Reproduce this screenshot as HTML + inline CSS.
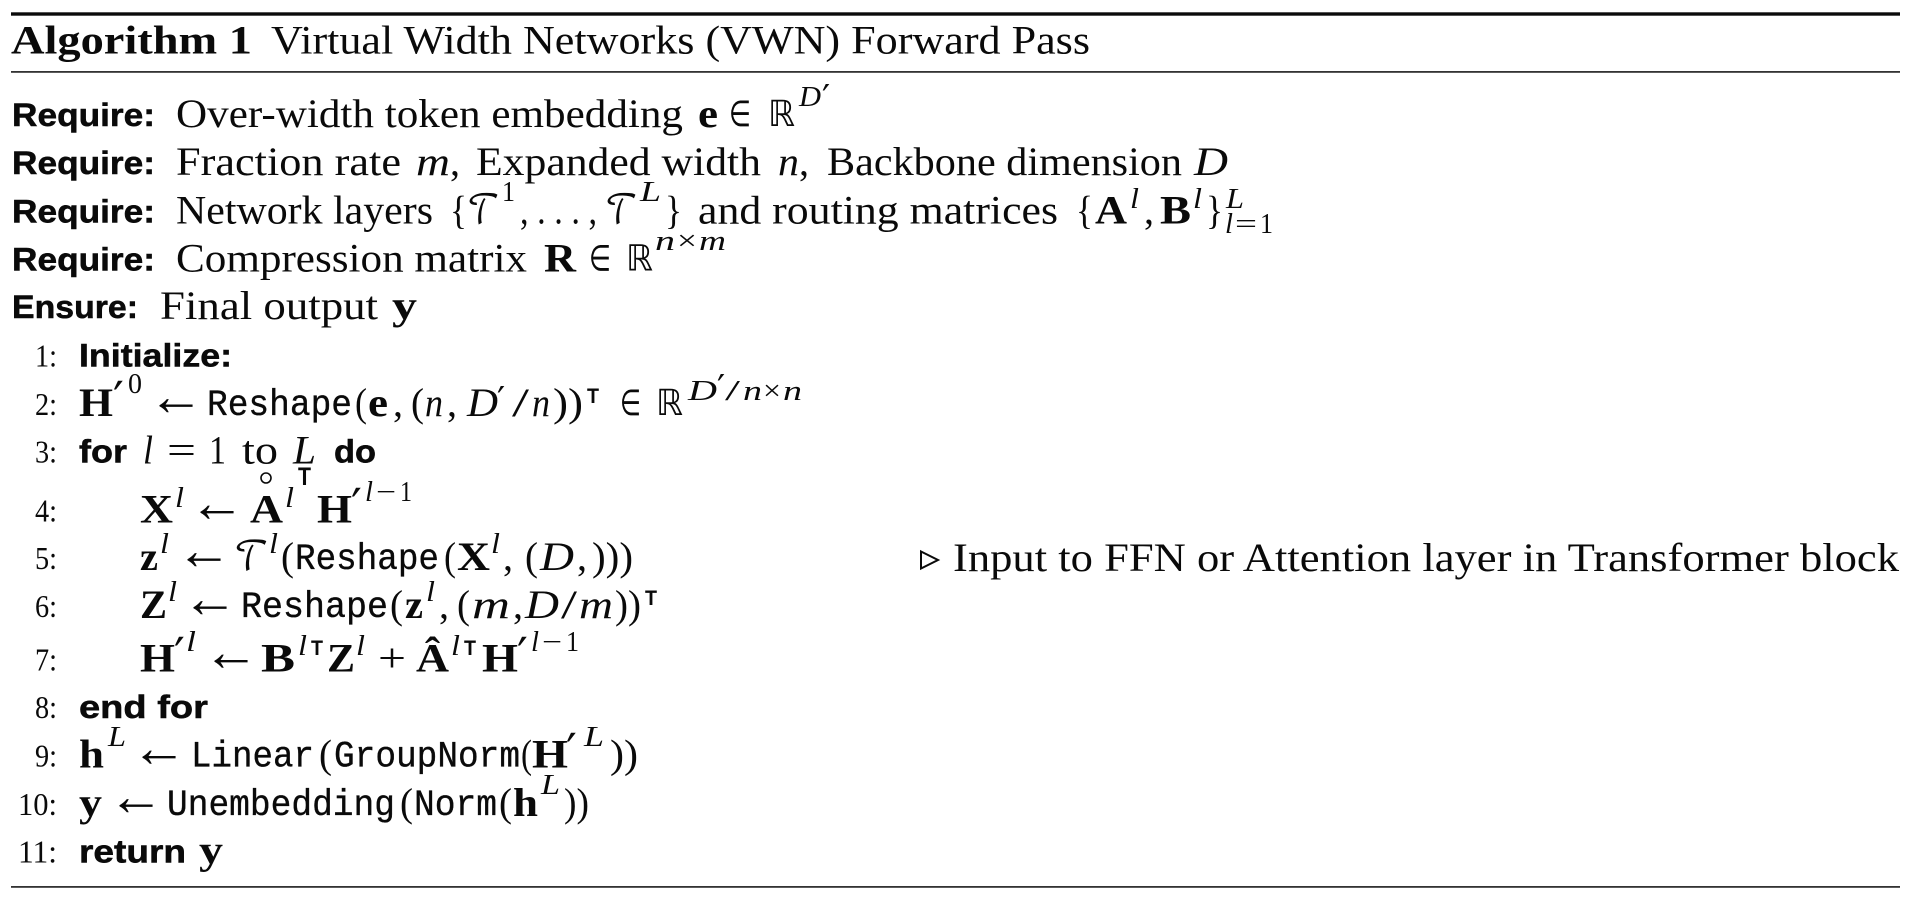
<!DOCTYPE html>
<html><head><meta charset="utf-8"><style>
html,body{margin:0;padding:0;background:#fff;width:1920px;height:900px;overflow:hidden}
svg{display:block;filter:blur(.35px)}
text{fill:#0a0a0a;white-space:pre}
.s{font:40px "Liberation Serif",serif;transform:translateY(1px)}
.n{font:32px "Liberation Serif",serif}
.b{font:bold 40px "Liberation Serif",serif;transform:translateY(1px)}
.i{font:italic 40px "Liberation Serif",serif;transform:translateY(1px)}
.c{font:40px "DejaVu Math TeX Gyre","Liberation Serif",serif}
.m{font:37px "Liberation Mono",monospace;stroke:#0a0a0a;stroke-width:.35px}
.h{font:bold 32px "Liberation Sans",sans-serif;stroke:#0a0a0a;stroke-width:.5px}
.si{font:italic 28px "Liberation Serif",serif}
.sr{font:28px "Liberation Serif",serif}
.t{font:bold 21px "Liberation Sans",sans-serif}
.tt{font:bold 25px "Liberation Sans",sans-serif}
.a{font:56px "Liberation Serif",serif}
.e{font:36px "DejaVu Sans",sans-serif}
.d{font:36px "DejaVu Sans",sans-serif}
.p{font:48px "DejaVu Sans",sans-serif}
.q{font:36px "DejaVu Sans",sans-serif}
</style></head><body>
<svg width="1920" height="900" viewBox="0 0 1920 900" xmlns="http://www.w3.org/2000/svg">
<rect x="11" y="12.3" width="1889" height="3.4" fill="#0a0a0a"/>
<rect x="11" y="71" width="1889" height="1.8" fill="#333"/>
<rect x="11" y="886" width="1889" height="1.8" fill="#333"/>

<text class="b" x="11" y="52.7" textLength="241" lengthAdjust="spacingAndGlyphs">Algorithm 1</text>
<text class="s" x="271" y="52.7" textLength="819" lengthAdjust="spacingAndGlyphs">Virtual Width Networks (VWN) Forward Pass</text>

<!-- Require 1 -->
<text class="h" x="12" y="126" textLength="143" lengthAdjust="spacingAndGlyphs">Require:</text>
<text class="s" x="176" y="126" textLength="507" lengthAdjust="spacingAndGlyphs">Over-width token embedding</text>
<text class="b" x="698" y="126" textLength="20" lengthAdjust="spacingAndGlyphs">e</text>
<text class="e" x="729" y="126" textLength="22" lengthAdjust="spacingAndGlyphs">∈</text>
<text class="d" x="768" y="126" textLength="27" lengthAdjust="spacingAndGlyphs">ℝ</text>
<text class="si" x="799" y="106" textLength="22" lengthAdjust="spacingAndGlyphs">D</text>
<text class="q" x="822" y="110">′</text>

<!-- Require 2 -->
<text class="h" x="12" y="174" textLength="143" lengthAdjust="spacingAndGlyphs">Require:</text>
<text class="s" x="176" y="174" textLength="225" lengthAdjust="spacingAndGlyphs">Fraction rate</text>
<text class="i" x="416" y="174" textLength="34" lengthAdjust="spacingAndGlyphs">m</text>
<text class="s" x="450" y="174">,</text>
<text class="s" x="476" y="174" textLength="285" lengthAdjust="spacingAndGlyphs">Expanded width</text>
<text class="i" x="778" y="174" textLength="21" lengthAdjust="spacingAndGlyphs">n</text>
<text class="s" x="799" y="174">,</text>
<text class="s" x="827" y="174" textLength="355" lengthAdjust="spacingAndGlyphs">Backbone dimension</text>
<text class="i" x="1194" y="174" textLength="34" lengthAdjust="spacingAndGlyphs">D</text>

<!-- Require 3 -->
<text class="h" x="12" y="222.7" textLength="143" lengthAdjust="spacingAndGlyphs">Require:</text>
<text class="s" x="176" y="222.7" textLength="257" lengthAdjust="spacingAndGlyphs">Network layers</text>
<text class="s" x="450" y="222.7" textLength="17" lengthAdjust="spacingAndGlyphs">{</text>
<text class="c" x="467" y="223.7" textLength="33" lengthAdjust="spacingAndGlyphs">𝒯</text>
<text class="sr" x="502" y="201" textLength="13" lengthAdjust="spacingAndGlyphs">1</text>
<text class="s" x="520" y="222.7" textLength="77" lengthAdjust="spacingAndGlyphs">, . . . ,</text>
<text class="c" x="605" y="223.7" textLength="33" lengthAdjust="spacingAndGlyphs">𝒯</text>
<text class="si" x="640" y="201" textLength="21" lengthAdjust="spacingAndGlyphs">L</text>
<text class="s" x="665" y="222.7" textLength="17" lengthAdjust="spacingAndGlyphs">}</text>
<text class="s" x="698" y="222.7" textLength="360" lengthAdjust="spacingAndGlyphs">and routing matrices</text>
<text class="s" x="1076" y="222.7" textLength="17" lengthAdjust="spacingAndGlyphs">{</text>
<text class="b" x="1095" y="222.7" textLength="32" lengthAdjust="spacingAndGlyphs">A</text>
<text class="si" x="1130" y="208" textLength="9" lengthAdjust="spacingAndGlyphs">l</text>
<text class="s" x="1144" y="222.7">,</text>
<text class="b" x="1160" y="222.7" textLength="31" lengthAdjust="spacingAndGlyphs">B</text>
<text class="si" x="1193" y="208" textLength="9" lengthAdjust="spacingAndGlyphs">l</text>
<text class="s" x="1206" y="222.7" textLength="17" lengthAdjust="spacingAndGlyphs">}</text>
<text class="si" x="1226" y="208" textLength="18" lengthAdjust="spacingAndGlyphs">L</text>
<text class="si" x="1225" y="233" textLength="8" lengthAdjust="spacingAndGlyphs">l</text>
<text class="sr" x="1235" y="233" textLength="22" lengthAdjust="spacingAndGlyphs">=</text>
<text class="sr" x="1260" y="233" textLength="13" lengthAdjust="spacingAndGlyphs">1</text>

<!-- Require 4 -->
<text class="h" x="12" y="270.7" textLength="143" lengthAdjust="spacingAndGlyphs">Require:</text>
<text class="s" x="176" y="270.7" textLength="351" lengthAdjust="spacingAndGlyphs">Compression matrix</text>
<text class="b" x="544" y="270.7" textLength="32" lengthAdjust="spacingAndGlyphs">R</text>
<text class="e" x="589" y="270.7" textLength="22" lengthAdjust="spacingAndGlyphs">∈</text>
<text class="d" x="626" y="270.7" textLength="27" lengthAdjust="spacingAndGlyphs">ℝ</text>
<text class="si" x="655" y="250" textLength="20" lengthAdjust="spacingAndGlyphs">n</text>
<text class="sr" x="677" y="250" textLength="20" lengthAdjust="spacingAndGlyphs">×</text>
<text class="si" x="699" y="250" textLength="27" lengthAdjust="spacingAndGlyphs">m</text>

<!-- Ensure -->
<text class="h" x="12" y="318" textLength="126" lengthAdjust="spacingAndGlyphs">Ensure:</text>
<text class="s" x="160" y="318" textLength="218" lengthAdjust="spacingAndGlyphs">Final output</text>
<text class="b" x="392" y="318" textLength="25" lengthAdjust="spacingAndGlyphs">y</text>

<!-- 1 -->
<text class="n" x="35" y="366.7" textLength="22" lengthAdjust="spacingAndGlyphs">1:</text>
<text class="h" x="79" y="366.7" textLength="153" lengthAdjust="spacingAndGlyphs">Initialize:</text>

<!-- 2 -->
<text class="n" x="35" y="415" textLength="22" lengthAdjust="spacingAndGlyphs">2:</text>
<text class="b" x="79" y="415" textLength="34" lengthAdjust="spacingAndGlyphs">H</text>
<text class="p" x="113" y="416">′</text>
<text class="sr" x="128" y="393" textLength="14" lengthAdjust="spacingAndGlyphs">0</text>
<text class="a" x="148" y="415">←</text>
<text class="m" x="207" y="415" textLength="145" lengthAdjust="spacingAndGlyphs">Reshape</text>
<text class="s" x="355" y="415" textLength="12" lengthAdjust="spacingAndGlyphs">(</text>
<text class="b" x="368" y="415" textLength="20" lengthAdjust="spacingAndGlyphs">e</text>
<text class="s" x="393" y="415">,</text>
<text class="s" x="411" y="415" textLength="13" lengthAdjust="spacingAndGlyphs">(</text>
<text class="i" x="425" y="415" textLength="18" lengthAdjust="spacingAndGlyphs">n</text>
<text class="s" x="447" y="415">,</text>
<text class="i" x="467" y="415" textLength="31" lengthAdjust="spacingAndGlyphs">D</text>
<text class="q" x="497" y="412">′</text>
<text class="s" x="512" y="415" textLength="17" lengthAdjust="spacingAndGlyphs">/</text>
<text class="i" x="532" y="415" textLength="18" lengthAdjust="spacingAndGlyphs">n</text>
<text class="s" x="553" y="415" textLength="30" lengthAdjust="spacingAndGlyphs">))</text>
<text class="t" x="587" y="403" textLength="12" lengthAdjust="spacingAndGlyphs">T</text>
<text class="e" x="620" y="415" textLength="21" lengthAdjust="spacingAndGlyphs">∈</text>
<text class="d" x="656" y="415" textLength="27" lengthAdjust="spacingAndGlyphs">ℝ</text>
<text class="si" x="688" y="400" textLength="29" lengthAdjust="spacingAndGlyphs">D</text>
<text class="q" x="717" y="400">′</text>
<text class="sr" x="725" y="400" textLength="15" lengthAdjust="spacingAndGlyphs">/</text>
<text class="si" x="743" y="400" textLength="19" lengthAdjust="spacingAndGlyphs">n</text>
<text class="sr" x="763" y="400" textLength="18" lengthAdjust="spacingAndGlyphs">×</text>
<text class="si" x="783" y="400" textLength="19" lengthAdjust="spacingAndGlyphs">n</text>

<!-- 3 -->
<text class="n" x="35" y="462.7" textLength="22" lengthAdjust="spacingAndGlyphs">3:</text>
<text class="h" x="79" y="462.7" textLength="48" lengthAdjust="spacingAndGlyphs">for</text>
<text class="i" x="143" y="462.7" textLength="10" lengthAdjust="spacingAndGlyphs">l</text>
<text class="s" x="167" y="462.7" textLength="29" lengthAdjust="spacingAndGlyphs">=</text>
<text class="s" x="209" y="462.7" textLength="17" lengthAdjust="spacingAndGlyphs">1</text>
<text class="s" x="242" y="462.7" textLength="36" lengthAdjust="spacingAndGlyphs">to</text>
<text class="i" x="293" y="462.7" textLength="23" lengthAdjust="spacingAndGlyphs">L</text>
<text class="h" x="334" y="462.7" textLength="42" lengthAdjust="spacingAndGlyphs">do</text>

<!-- 4 -->
<text class="n" x="35" y="521.7" textLength="22" lengthAdjust="spacingAndGlyphs">4:</text>
<text class="b" x="140" y="521.7" textLength="33" lengthAdjust="spacingAndGlyphs">X</text>
<text class="si" x="175" y="507" textLength="9" lengthAdjust="spacingAndGlyphs">l</text>
<text class="a" x="189" y="521.7">←</text>
<text class="b" x="250" y="521.7" textLength="33" lengthAdjust="spacingAndGlyphs">A</text>
<circle cx="266" cy="478" r="5" fill="none" stroke="#0a0a0a" stroke-width="1.6"/>
<text class="si" x="285" y="507" textLength="9" lengthAdjust="spacingAndGlyphs">l</text>
<text class="tt" x="298" y="485" textLength="13" lengthAdjust="spacingAndGlyphs">T</text>
<text class="b" x="317" y="521.7" textLength="35" lengthAdjust="spacingAndGlyphs">H</text>
<text class="p" x="351" y="523">′</text>
<text class="si" x="365" y="501" textLength="8" lengthAdjust="spacingAndGlyphs">l</text>
<text class="sr" x="376" y="501" textLength="20" lengthAdjust="spacingAndGlyphs">−</text>
<text class="sr" x="400" y="501" textLength="12" lengthAdjust="spacingAndGlyphs">1</text>

<!-- 5 -->
<text class="n" x="35" y="569" textLength="22" lengthAdjust="spacingAndGlyphs">5:</text>
<text class="b" x="140" y="569" textLength="18" lengthAdjust="spacingAndGlyphs">z</text>
<text class="si" x="160" y="553" textLength="9" lengthAdjust="spacingAndGlyphs">l</text>
<text class="a" x="176" y="569">←</text>
<text class="c" x="234" y="570" textLength="35" lengthAdjust="spacingAndGlyphs">𝒯</text>
<text class="si" x="269" y="553" textLength="9" lengthAdjust="spacingAndGlyphs">l</text>
<text class="s" x="281" y="569" textLength="13" lengthAdjust="spacingAndGlyphs">(</text>
<text class="m" x="295" y="569" textLength="144" lengthAdjust="spacingAndGlyphs">Reshape</text>
<text class="s" x="444" y="569" textLength="12" lengthAdjust="spacingAndGlyphs">(</text>
<text class="b" x="457" y="569" textLength="33" lengthAdjust="spacingAndGlyphs">X</text>
<text class="si" x="491" y="553" textLength="9" lengthAdjust="spacingAndGlyphs">l</text>
<text class="s" x="503" y="569">,</text>
<text class="s" x="525" y="569" textLength="13" lengthAdjust="spacingAndGlyphs">(</text>
<text class="i" x="540" y="569" textLength="34" lengthAdjust="spacingAndGlyphs">D</text>
<text class="s" x="577" y="569">,</text>
<text class="s" x="592" y="569" textLength="41" lengthAdjust="spacingAndGlyphs">)))</text>

<path d="M921 551.5 L938 560 L921 568.5 Z" fill="none" stroke="#0a0a0a" stroke-width="2"/>
<text class="s" x="953" y="570" textLength="946" lengthAdjust="spacingAndGlyphs">Input to FFN or Attention layer in Transformer block</text>

<!-- 6 -->
<text class="n" x="35" y="617" textLength="22" lengthAdjust="spacingAndGlyphs">6:</text>
<text class="b" x="140" y="617" textLength="27" lengthAdjust="spacingAndGlyphs">Z</text>
<text class="si" x="168" y="601" textLength="9" lengthAdjust="spacingAndGlyphs">l</text>
<text class="a" x="182" y="617">←</text>
<text class="m" x="241" y="617" textLength="147" lengthAdjust="spacingAndGlyphs">Reshape</text>
<text class="s" x="390" y="617" textLength="13" lengthAdjust="spacingAndGlyphs">(</text>
<text class="b" x="405" y="617" textLength="18" lengthAdjust="spacingAndGlyphs">z</text>
<text class="si" x="426" y="601" textLength="9" lengthAdjust="spacingAndGlyphs">l</text>
<text class="s" x="439" y="617">,</text>
<text class="s" x="457" y="617" textLength="13" lengthAdjust="spacingAndGlyphs">(</text>
<text class="i" x="472" y="617" textLength="38" lengthAdjust="spacingAndGlyphs">m</text>
<text class="s" x="513" y="617">,</text>
<text class="i" x="525" y="617" textLength="34" lengthAdjust="spacingAndGlyphs">D</text>
<text class="s" x="561" y="617" textLength="16" lengthAdjust="spacingAndGlyphs">/</text>
<text class="i" x="579" y="617" textLength="34" lengthAdjust="spacingAndGlyphs">m</text>
<text class="s" x="615" y="617" textLength="26" lengthAdjust="spacingAndGlyphs">))</text>
<text class="t" x="645" y="605" textLength="12" lengthAdjust="spacingAndGlyphs">T</text>

<!-- 7 -->
<text class="n" x="35" y="670.7" textLength="22" lengthAdjust="spacingAndGlyphs">7:</text>
<text class="b" x="140" y="670.7" textLength="35" lengthAdjust="spacingAndGlyphs">H</text>
<text class="p" x="174" y="672">′</text>
<text class="si" x="186" y="651" textLength="10" lengthAdjust="spacingAndGlyphs">l</text>
<text class="a" x="203" y="670.7">←</text>
<text class="b" x="261" y="670.7" textLength="34" lengthAdjust="spacingAndGlyphs">B</text>
<text class="si" x="298" y="655" textLength="9" lengthAdjust="spacingAndGlyphs">l</text>
<text class="t" x="311" y="655" textLength="12" lengthAdjust="spacingAndGlyphs">T</text>
<text class="b" x="327" y="670.7" textLength="28" lengthAdjust="spacingAndGlyphs">Z</text>
<text class="si" x="356" y="655" textLength="9" lengthAdjust="spacingAndGlyphs">l</text>
<text class="s" x="378" y="670.7" textLength="28" lengthAdjust="spacingAndGlyphs">+</text>
<text class="b" x="416" y="670.7" textLength="33" lengthAdjust="spacingAndGlyphs">Â</text>
<text class="si" x="451" y="655" textLength="9" lengthAdjust="spacingAndGlyphs">l</text>
<text class="t" x="464" y="655" textLength="12" lengthAdjust="spacingAndGlyphs">T</text>
<text class="b" x="482" y="670.7" textLength="36" lengthAdjust="spacingAndGlyphs">H</text>
<text class="p" x="517" y="672">′</text>
<text class="si" x="531" y="651" textLength="8" lengthAdjust="spacingAndGlyphs">l</text>
<text class="sr" x="542" y="651" textLength="20" lengthAdjust="spacingAndGlyphs">−</text>
<text class="sr" x="566" y="651" textLength="13" lengthAdjust="spacingAndGlyphs">1</text>

<!-- 8 -->
<text class="n" x="35" y="718" textLength="22" lengthAdjust="spacingAndGlyphs">8:</text>
<text class="h" x="79" y="718" textLength="129" lengthAdjust="spacingAndGlyphs">end for</text>

<!-- 9 -->
<text class="n" x="35" y="766.7" textLength="22" lengthAdjust="spacingAndGlyphs">9:</text>
<text class="b" x="79" y="766.7" textLength="25" lengthAdjust="spacingAndGlyphs">h</text>
<text class="si" x="108" y="746" textLength="18" lengthAdjust="spacingAndGlyphs">L</text>
<text class="a" x="131" y="766.7">←</text>
<text class="m" x="191" y="766.7" textLength="123" lengthAdjust="spacingAndGlyphs">Linear</text>
<text class="s" x="319" y="766.7" textLength="13" lengthAdjust="spacingAndGlyphs">(</text>
<text class="m" x="334" y="766.7" textLength="186" lengthAdjust="spacingAndGlyphs">GroupNorm</text>
<text class="s" x="521" y="766.7" textLength="11" lengthAdjust="spacingAndGlyphs">(</text>
<text class="b" x="532" y="766.7" textLength="36" lengthAdjust="spacingAndGlyphs">H</text>
<text class="p" x="566" y="768">′</text>
<text class="si" x="584" y="746" textLength="20" lengthAdjust="spacingAndGlyphs">L</text>
<text class="s" x="610" y="766.7" textLength="28" lengthAdjust="spacingAndGlyphs">))</text>

<!-- 10 -->
<text class="n" x="18" y="815" textLength="39" lengthAdjust="spacingAndGlyphs">10:</text>
<text class="b" x="79" y="815" textLength="23" lengthAdjust="spacingAndGlyphs">y</text>
<text class="a" x="108" y="815">←</text>
<text class="m" x="167" y="815" textLength="228" lengthAdjust="spacingAndGlyphs">Unembedding</text>
<text class="s" x="400" y="815" textLength="13" lengthAdjust="spacingAndGlyphs">(</text>
<text class="m" x="414" y="815" textLength="83" lengthAdjust="spacingAndGlyphs">Norm</text>
<text class="s" x="499" y="815" textLength="13" lengthAdjust="spacingAndGlyphs">(</text>
<text class="b" x="513" y="815" textLength="25" lengthAdjust="spacingAndGlyphs">h</text>
<text class="si" x="541" y="794" textLength="19" lengthAdjust="spacingAndGlyphs">L</text>
<text class="s" x="564" y="815" textLength="25" lengthAdjust="spacingAndGlyphs">))</text>

<!-- 11 -->
<text class="n" x="18" y="862.7" textLength="39" lengthAdjust="spacingAndGlyphs">11:</text>
<text class="h" x="79" y="862.7" textLength="107" lengthAdjust="spacingAndGlyphs">return</text>
<text class="b" x="199" y="862.7" textLength="24" lengthAdjust="spacingAndGlyphs">y</text>
</svg>
</body></html>
